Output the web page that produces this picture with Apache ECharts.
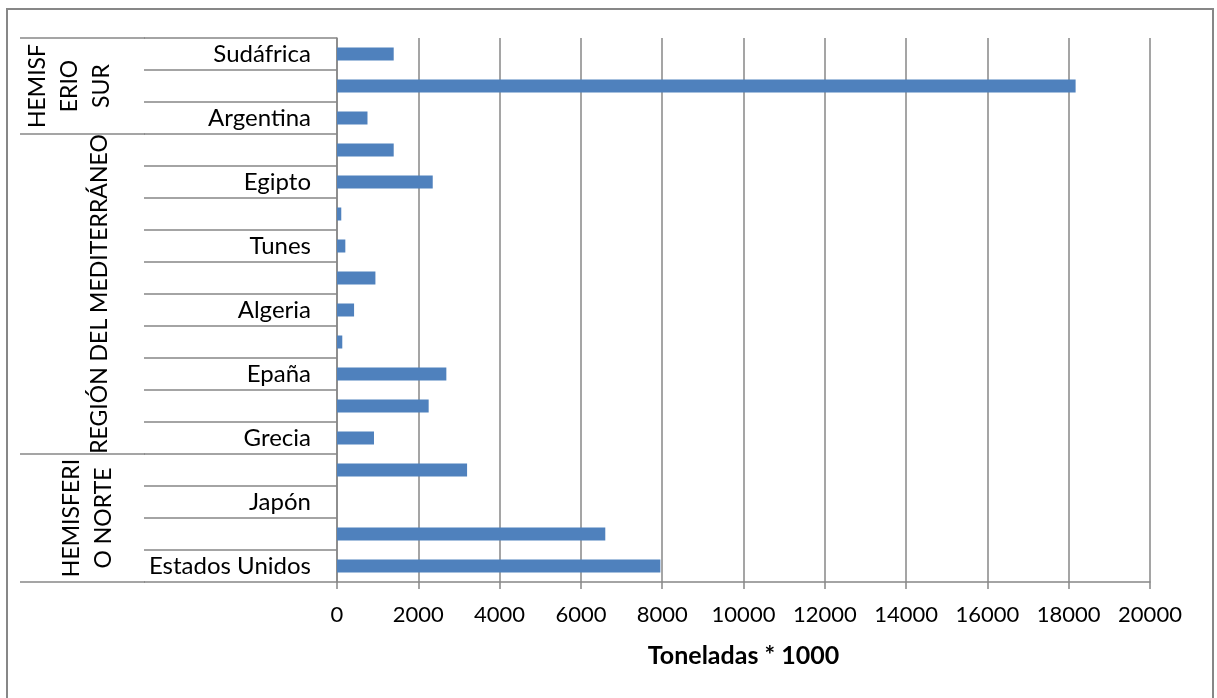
<!DOCTYPE html>
<html>
<head>
<meta charset="utf-8">
<style>
  html, body { margin: 0; padding: 0; background: #fff; }
  #chart { width: 1217px; height: 698px; }
</style>
<script src="https://cdn.jsdelivr.net/npm/echarts@6/dist/echarts.min.js"></script>
</head>
<body>
<div id="chart"></div>
<script>
// Countries, listed from the bottom of the chart to the top.
// Unnamed rows keep an empty label (only every other name is printed).
const categories = [
  'Estados Unidos', '', 'Japón', '', 'Grecia', '', 'Epaña', '', 'Algeria', '',
  'Tunes', '', 'Egipto', '', 'Argentina', '', 'Sudáfrica'
];
// Production, thousands of tonnes.
const production = [
  7955, 6600, 0, 3200, 910, 2255, 2690, 130, 420, 945,
  205, 105, 2355, 1395, 750, 18170, 1395
];
// Region groups: label lines and the category index range they span.
const groupLabels = ['HEMISFERI\nO NORTE', 'REGIÓN DEL MEDITERRÁNEO', 'HEMISF\nERIO\nSUR'];
const groupStart = [0, 4, 14];
const groupEnd = [3, 13, 16];
const xTicks = { min: 0, max: 20000, step: 2000 };
const axisTitle = 'Toneladas * 1000';

const FONT = 'Lato';
const GREY = '#878787';
const chart = echarts.init(document.getElementById('chart'), null, { renderer: 'canvas' });

chart.setOption({
  animation: false,
  backgroundColor: '#fff',
  textStyle: { fontFamily: FONT, color: '#000' },
  grid: { left: 337, right: 67, top: 38, bottom: 116, outerBoundsMode: 'none', containLabel: false },
  xAxis: {
    type: 'value',
    min: xTicks.min, max: xTicks.max, interval: xTicks.step,
    axisLine: { show: true, lineStyle: { color: GREY, width: 1.5 } },
    axisTick: { show: true, length: 7, lineStyle: { color: GREY, width: 1.5 } },
    splitLine: { show: true, lineStyle: { color: GREY, width: 1.5 } },
    axisLabel: {
      fontFamily: FONT, fontSize: 22, color: '#000', margin: 22,
      formatter: function (v) { return String(v); }
    },
    name: axisTitle,
    nameLocation: 'middle',
    nameGap: 61,
    nameTextStyle: { fontFamily: FONT, fontSize: 25, fontWeight: 'bold', color: '#000' }
  },
  yAxis: {
    type: 'category',
    data: categories,
    axisLine: { show: true, lineStyle: { color: GREY, width: 1.5 } },
    axisTick: { show: true, length: 193, interval: 0, lineStyle: { color: GREY, width: 1.5 } },
    axisLabel: { interval: 1, fontFamily: FONT, fontSize: 24, color: '#000', margin: 26 },
    splitLine: { show: false }
  },
  series: [{
    type: 'bar',
    data: production,
    barWidth: 13,
    itemStyle: { color: '#4F81BD' }
  }]
});

// Group separators and rotated region names, placed from the category scale.
function rowCenter(i) { return chart.convertToPixel({ yAxisIndex: 0 }, i); }
const band = Math.abs(rowCenter(0) - rowCenter(1));
const groupX = [88, 100, 70];
const elements = [{
  type: 'rect',
  shape: { x: 7, y: 9, width: 1206, height: 720 },
  style: { fill: null, stroke: GREY, lineWidth: 2 },
  silent: true, z: 0
}];
const boundaries = new Set();
groupStart.forEach(function (s, g) {
  boundaries.add(rowCenter(s) + band / 2);
  boundaries.add(rowCenter(groupEnd[g]) - band / 2);
  const yMid = (rowCenter(s) + rowCenter(groupEnd[g])) / 2;
  elements.push({
    type: 'text',
    x: groupX[g], y: yMid,
    rotation: Math.PI / 2,
    style: {
      text: groupLabels[g],
      font: '23px ' + FONT,
      fill: '#000',
      align: 'center',
      verticalAlign: 'middle',
      lineHeight: 32
    },
    silent: true, z: 10
  });
});
boundaries.forEach(function (y) {
  elements.push({
    type: 'line',
    shape: { x1: 20, y1: y, x2: 145, y2: y },
    style: { stroke: GREY, lineWidth: 1.5 },
    silent: true, z: 10
  });
});
chart.setOption({ graphic: { elements: elements } });
</script>
</body>
</html>
